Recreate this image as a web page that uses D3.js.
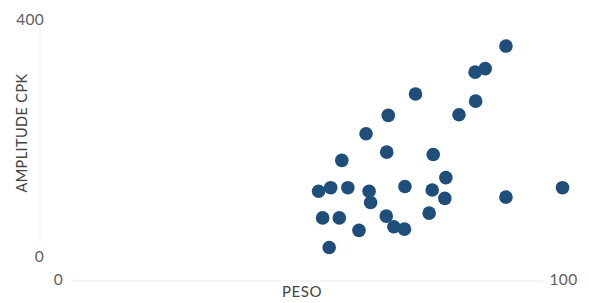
<!DOCTYPE html>
<html>
<head>
<meta charset="utf-8">
<script src="https://cdn.jsdelivr.net/npm/d3@7"></script>
<style>
  body { margin: 0; background: #fff; }
  text { font-family: Lato, "Open Sans", sans-serif; }
</style>
</head>
<body>
<div id="scatter"></div>
<script>
// ========== data ==========
var peso = [88.7, 82.6, 84.6, 70.8, 82.7, 79.4, 65.4, 61.0, 65.1, 74.3,
            56.2, 76.8, 99.9, 51.6, 54.0, 57.4, 61.6, 68.7, 74.1, 88.7,
            76.6, 61.9, 52.4, 55.7, 65.0, 73.5, 66.5, 68.6, 59.6, 53.7];
var amplitude = [356, 312, 318, 275, 263, 240, 239, 208, 177, 173,
                 163, 134, 117, 111, 117, 117, 111, 119, 113, 101,
                 99, 92, 66, 66, 69, 74, 51, 47, 45, 16];
var xTicks = [0, 100];
var yTicks = [0, 400];

var data = peso.map((p, i) => ({peso: p, amp: amplitude[i]}));

// ========== chart setup ==========
var svgWidth = 589;
var svgHeight = 303;

var svg = d3.select("#scatter").append("svg")
  .attr("width", svgWidth).attr("height", svgHeight);

var xScale = d3.scaleLinear().domain([0, 100]).range([58, 563]);
var yScale = d3.scaleLinear().domain([0, 400]).range([257, 20]);

// ========== axes ==========
// faint axis lines sitting between the end labels
svg.append("line")
  .attr("x1", xScale(0) + 13).attr("x2", xScale(100) - 20)
  .attr("y1", 281).attr("y2", 281)
  .attr("stroke", "#ececec").attr("stroke-width", 1);

svg.append("line")
  .attr("x1", 40).attr("x2", 40)
  .attr("y1", yScale(400) + 7).attr("y2", yScale(0) - 14)
  .attr("stroke", "#f0f0f0").attr("stroke-width", 1);

var xAxis = d3.axisBottom(xScale).tickValues(xTicks).tickSize(0).tickPadding(0);
var gx = svg.append("g").attr("transform", "translate(0, 280)").call(xAxis);
gx.select(".domain").remove();
gx.selectAll("text")
  .attr("dy", "0.35em").attr("y", 0)
  .attr("font-size", "15.5px").attr("fill", "#606060")
  .attr("letter-spacing", "0.3px")
  .attr("font-family", "Lato, sans-serif");

var yAxis = d3.axisLeft(yScale).tickValues(yTicks).tickSize(0).tickPadding(0);
var gy = svg.append("g").attr("transform", "translate(44, 0)").call(yAxis);
gy.select(".domain").remove();
gy.selectAll("text")
  .attr("font-size", "15.5px").attr("fill", "#606060")
  .attr("letter-spacing", "0.3px")
  .attr("font-family", "Lato, sans-serif");

// ========== points ==========
svg.append("g")
  .selectAll("circle")
  .data(data)
  .enter()
  .append("circle")
  .attr("cx", d => xScale(d.peso))
  .attr("cy", d => yScale(d.amp))
  .attr("r", 6.8)
  .attr("fill", "#1f4e7a");

// ========== axis titles ==========
svg.append("text")
  .attr("x", 302).attr("y", 297)
  .attr("text-anchor", "middle")
  .attr("font-size", "15px")
  .attr("letter-spacing", "0.6px")
  .attr("fill", "#444")
  .text("PESO");

svg.append("text")
  .attr("transform", "translate(27, 133) rotate(-90)")
  .attr("text-anchor", "middle")
  .attr("font-size", "14.5px")
  .attr("letter-spacing", "0.4px")
  .attr("fill", "#444")
  .text("AMPLITUDE CPK");
</script>
</body>
</html>
